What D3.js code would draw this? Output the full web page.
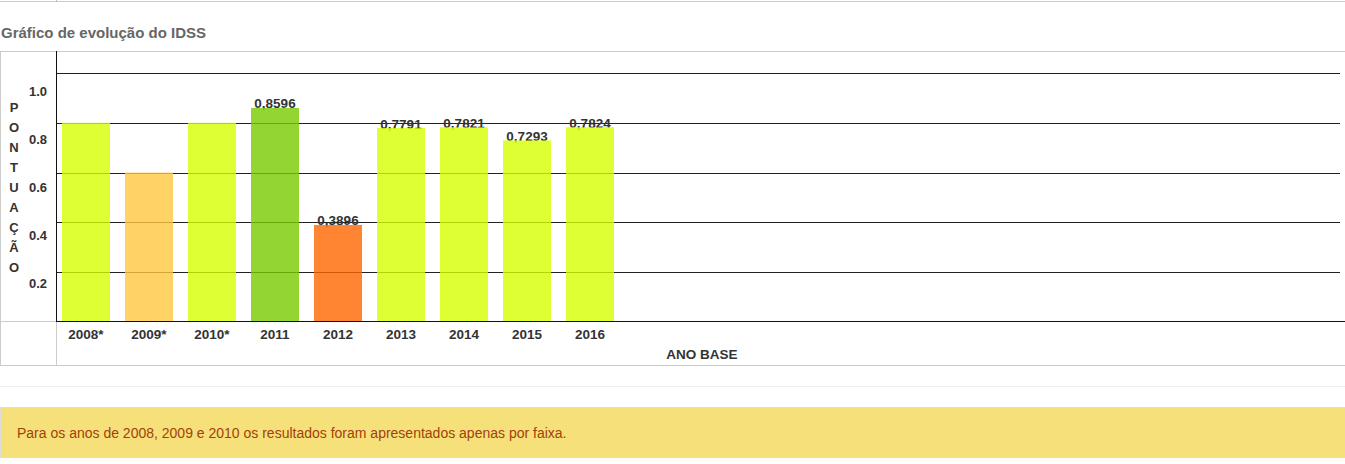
<!DOCTYPE html>
<html>
<head>
<meta charset="utf-8">
<script src="https://cdn.jsdelivr.net/npm/d3@7"></script>
<style>
  body { margin: 0; background: #fff; font-family: "Liberation Sans", Arial, sans-serif; }
  svg { display: block; }
</style>
</head>
<body>
<svg id="chart" width="1345" height="464"></svg>
<script>
// data
let years = ['2008*', '2009*', '2010*', '2011', '2012', '2013', '2014', '2015', '2016'];
let scores = [0.8, 0.6, 0.8, 0.8596, 0.3896, 0.7791, 0.7821, 0.7293, 0.7824];
let valueLabels = ['', '', '', '0,8596', '0,3896', '0,7791', '0,7821', '0,7293', '0,7824'];
let barColors = ['#d5ff00', '#ffc840', '#d5ff00', '#78cc00', '#ff6600', '#d5ff00', '#d5ff00', '#d5ff00', '#d5ff00'];
let yTicks = [0.2, 0.4, 0.6, 0.8, 1.0];
let yTickLabels = ['0.2', '0.4', '0.6', '0.8', '1.0'];
let yTitle = 'PONTUAÇÃO';
let xTitle = 'ANO BASE';
let chartTitle = 'Gráfico de evolução do IDSS';
let note = 'Para os anos de 2008, 2009 e 2010 os resultados foram apresentados apenas por faixa.';

let svg = d3.select('#chart');

let x = d3.scaleBand()
  .domain(years)
  .range([57, 619])
  .paddingInner(0.238)
  .paddingOuter(0.079);

let y = d3.scaleLinear().domain([0, 1]).range([322, 73]);
// tick labels sit a little lower than their grid lines in the original
let yLabel = d3.scaleLinear().domain([0, 1]).range([336, 96]);

// top rule left over from the page above
svg.append('line')
  .attr('x1', 0).attr('x2', 1345).attr('y1', 1.5).attr('y2', 1.5)
  .attr('stroke', '#ccc');
svg.append('line')
  .attr('x1', 56.5).attr('x2', 56.5).attr('y1', 0).attr('y2', 2)
  .attr('stroke', '#bbb');

svg.append('text')
  .attr('x', 1).attr('y', 37.5)
  .attr('font-size', 15).attr('font-weight', 'bold')
  .attr('fill', '#666')
  .text(chartTitle);

// table frame
svg.append('rect')
  .attr('x', 0.5).attr('y', 51.5).attr('width', 1350).attr('height', 314)
  .attr('fill', 'none').attr('stroke', '#ccc');
svg.append('line')
  .attr('x1', 56.5).attr('x2', 56.5).attr('y1', 321).attr('y2', 365)
  .attr('stroke', '#ccc');
svg.append('line')
  .attr('x1', 0).attr('x2', 57).attr('y1', 321.5).attr('y2', 321.5)
  .attr('stroke', '#ccc');

// grid
svg.selectAll('line.grid')
  .data(yTicks)
  .enter()
  .append('line')
  .attr('class', 'grid')
  .attr('x1', 57).attr('x2', 1340)
  .attr('y1', d => Math.round(y(d)) + 0.5)
  .attr('y2', d => Math.round(y(d)) + 0.5)
  .attr('stroke', '#222');

svg.selectAll('text.ytick')
  .data(yTicks)
  .enter()
  .append('text')
  .attr('class', 'ytick')
  .attr('x', 47)
  .attr('y', d => yLabel(d))
  .attr('text-anchor', 'end')
  .attr('font-size', 13).attr('font-weight', 'bold')
  .attr('fill', '#333')
  .text((d, i) => yTickLabels[i]);

// vertical axis title, one letter per line
svg.selectAll('text.ytitle')
  .data(yTitle.split(''))
  .enter()
  .append('text')
  .attr('class', 'ytitle')
  .attr('x', 14)
  .attr('y', (d, i) => 111.5 + i * 20)
  .attr('text-anchor', 'middle')
  .attr('font-size', 13).attr('font-weight', 'bold')
  .attr('fill', '#333')
  .text(d => d);

// value labels go under the bars so the comma tail is covered
svg.selectAll('text.value')
  .data(scores)
  .enter()
  .append('text')
  .attr('class', 'value')
  .attr('x', (d, i) => x(years[i]) + x.bandwidth() / 2)
  .attr('y', d => y(d) + 0.5)
  .attr('text-anchor', 'middle')
  .attr('font-size', 13.5).attr('font-weight', 'bold')
  .attr('fill', '#333')
  .text((d, i) => valueLabels[i]);

svg.selectAll('rect.bar')
  .data(scores)
  .enter()
  .append('rect')
  .attr('class', 'bar')
  .attr('x', (d, i) => x(years[i]))
  .attr('y', d => y(d))
  .attr('width', x.bandwidth())
  .attr('height', d => y(0) - 1 - y(d))
  .attr('fill', (d, i) => barColors[i])
  .attr('fill-opacity', 0.8);

// axes lines
svg.append('line')
  .attr('x1', 56.5).attr('x2', 56.5).attr('y1', 51).attr('y2', 322)
  .attr('stroke', '#111');
svg.append('line')
  .attr('x1', 57).attr('x2', 1345).attr('y1', 321.5).attr('y2', 321.5)
  .attr('stroke', '#111');

svg.selectAll('text.xtick')
  .data(years)
  .enter()
  .append('text')
  .attr('class', 'xtick')
  .attr('x', d => x(d) + x.bandwidth() / 2)
  .attr('y', 339)
  .attr('text-anchor', 'middle')
  .attr('font-size', 13.5).attr('font-weight', 'bold')
  .attr('fill', '#333')
  .text(d => d);

svg.append('text')
  .attr('x', 702).attr('y', 359)
  .attr('text-anchor', 'middle')
  .attr('font-size', 13.5).attr('font-weight', 'bold')
  .attr('fill', '#333')
  .text(xTitle);

// note box
svg.append('line')
  .attr('x1', 0).attr('x2', 1345).attr('y1', 386.5).attr('y2', 386.5)
  .attr('stroke', '#eee');
svg.append('rect')
  .attr('x', 0.5).attr('y', 407.5).attr('width', 1350).attr('height', 50)
  .attr('fill', '#f6e07a').attr('stroke', '#ddd');
svg.append('text')
  .attr('x', 17).attr('y', 438)
  .attr('font-size', 14)
  .attr('fill', '#a2400a')
  .text(note);
</script>
</body>
</html>
